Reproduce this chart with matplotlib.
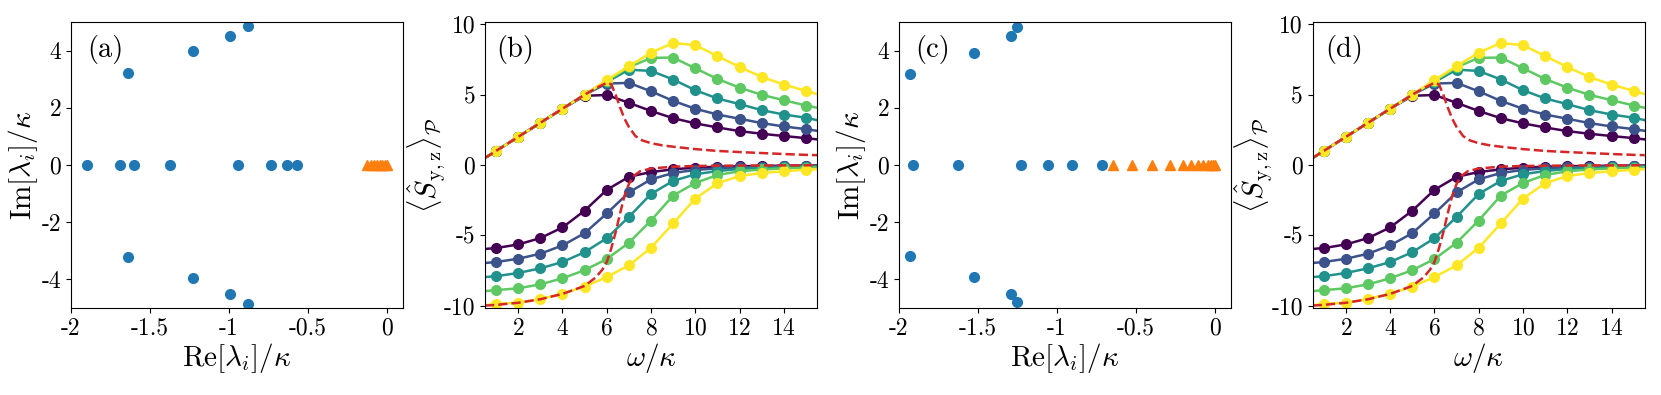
import numpy as np
import matplotlib
matplotlib.use('Agg')
import matplotlib.pyplot as plt

plt.rcParams['font.family'] = 'cmr10'
plt.rcParams['mathtext.fontset'] = 'cm'
plt.rcParams['axes.unicode_minus'] = False
plt.rcParams['axes.formatter.use_mathtext'] = True

# spectra, panels (a) and (c)
re_a = [-1.897, -1.69, -1.604, -1.372, -0.942, -0.733, -0.636, -0.573,
        -1.637, -1.231, -0.995, -0.877, -1.637, -1.231, -0.995, -0.877]
im_a = [0, 0, 0, 0, 0, 0, 0, 0,
        3.22, 3.97, 4.51, 4.87, -3.22, -3.96, -4.51, -4.86]
tri_a = [-0.125, -0.105, -0.085, -0.065, -0.045, -0.03, -0.015, 0.0]

re_c = [-1.909, -1.625, -1.229, -1.058, -0.905, -0.718,
        -1.931, -1.524, -1.293, -1.253, -1.931, -1.524, -1.293, -1.253]
im_c = [0, 0, 0, 0, 0, 0,
        3.19, 3.93, 4.51, 4.81, -3.17, -3.93, -4.50, -4.80]
tri_c = [-0.648, -0.526, -0.398, -0.284, -0.204, -0.152, -0.109, -0.074,
         -0.046, -0.025, -0.011, 0.0]

# panels (b) and (d)
omega = np.arange(1, 16)
sy = [
    [1, 2, 3, 4, 4.92, 4.98, 4.42, 3.84, 3.33, 2.96, 2.67, 2.41, 2.22, 2.06, 1.91],
    [1, 2, 3, 4, 5.0, 5.79, 5.84, 5.24, 4.56, 4.0, 3.59, 3.29, 2.98, 2.74, 2.55],
    [1, 2, 3, 4, 5, 5.9, 6.78, 6.69, 6.08, 5.32, 4.73, 4.33, 3.9, 3.59, 3.36],
    [1, 2, 3, 4, 5, 5.98, 6.95, 7.62, 7.64, 6.88, 6.12, 5.5, 4.99, 4.61, 4.23],
    [1, 2, 3, 4, 5, 6.04, 7.03, 7.99, 8.68, 8.52, 7.75, 6.97, 6.26, 5.72, 5.27],
]
sz = [
    [-5.91, -5.65, -5.2, -4.44, -3.25, -1.77, -0.84, -0.5, -0.31, -0.19, -0.12, -0.09, -0.07, -0.05, -0.04],
    [-6.9, -6.67, -6.31, -5.72, -4.85, -3.45, -1.95, -1.02, -0.57, -0.35, -0.24, -0.17, -0.13, -0.1, -0.08],
    [-7.91, -7.68, -7.35, -6.9, -6.2, -5.21, -3.69, -2.06, -1.13, -0.66, -0.43, -0.28, -0.2, -0.15, -0.12],
    [-8.9, -8.77, -8.49, -8.06, -7.48, -6.69, -5.53, -3.95, -2.17, -1.28, -0.71, -0.45, -0.32, -0.24, -0.18],
    [-9.88, -9.79, -9.53, -9.15, -8.65, -7.97, -7.14, -5.89, -4.16, -2.39, -1.3, -0.78, -0.57, -0.45, -0.33],
]
# where the solid curves meet the frame (omega = 0.5 and 15.5)
sy_start = [0.5, 0.5, 0.5, 0.5, 0.5]
sy_end = [1.82, 2.43, 3.19, 4.07, 5.04]
sz_start = [-5.97, -6.97, -7.97, -8.97, -9.97]
sz_end = [-0.035, -0.07, -0.11, -0.16, -0.3]

# dashed mean-field curves
mf_w_y = [0.5, 1, 2, 3, 4, 5, 5.5, 6.0, 6.2, 6.4, 6.6, 6.8, 7.0, 7.3, 7.6, 8, 8.5, 9,
          10, 11, 12, 13, 14, 15, 15.5]
mf_y = [0.5, 1, 2, 3, 4, 5, 5.45, 5.85, 5.75, 5.0, 4.1, 3.3, 2.7, 2.05, 1.75, 1.55, 1.4, 1.3,
        1.13, 1.0, 0.92, 0.85, 0.78, 0.72, 0.7]
mf_w_z = [0.5, 1, 2, 3, 4, 5, 5.5, 5.8, 6.0, 6.2, 6.4, 6.6, 6.8, 7.0, 7.2, 7.5, 8, 9,
          10, 12, 15.5]
mf_z = [-10, -9.95, -9.8, -9.55, -9.17, -8.6, -8.0, -7.45, -6.9, -5.95, -4.8, -3.45, -2.2,
        -1.35, -0.8, -0.45, -0.25, -0.12, -0.07, -0.04, -0.02]

colors = plt.cm.viridis(np.linspace(0, 1, 5))

fig = plt.figure(figsize=(16.61, 3.95), dpi=100)
lefts = [0.0427, 0.292, 0.5412, 0.7903]
axs = [fig.add_axes([l, 0.2203, 0.1999, 0.724]) for l in lefts]

tick_fs = 17
label_fs = 21
tag_fs = 20.5


def spectrum(ax, re, im, tri, tag):
    ax.plot(re, im, 'o', color='tab:blue', ms=7, ls='none')
    ax.plot(tri, np.zeros(len(tri)), '^', color='tab:orange', ms=7, ls='none')
    ax.set_xlim(-2, 0.1)
    ax.set_ylim(-5, 5)
    ax.set_xticks([-2, -1.5, -1, -0.5, 0])
    ax.set_xticklabels(['-2', '-1.5', '-1', '-0.5', '0'])
    ax.set_yticks([-4, -2, 0, 2, 4])
    ax.set_yticklabels(['-4', '-2', '0', '2', '4'])
    ax.tick_params(labelsize=tick_fs)
    ax.set_xlabel(r'$\mathrm{Re}[\lambda_i]/\kappa$', fontsize=label_fs, labelpad=1)
    ax.set_ylabel(r'$\mathrm{Im}[\lambda_i]/\kappa$', fontsize=label_fs, labelpad=1)
    ax.text(0.05, 0.955, tag, transform=ax.transAxes, ha='left', va='top', fontsize=tag_fs)


def spin(ax, tag, xtag):
    for i in range(5):
        wl = np.concatenate([[0.5], omega, [15.5]])
        ax.plot(wl, np.concatenate([[sy_start[i]], sy[i], [sy_end[i]]]), '-', color=colors[i], lw=1.8)
        ax.plot(omega, sy[i], 'o', color=colors[i], ms=7, ls='none')
        ax.plot(wl, np.concatenate([[sz_start[i]], sz[i], [sz_end[i]]]), '-', color=colors[i], lw=1.8)
        ax.plot(omega, sz[i], 'o', color=colors[i], ms=7, ls='none')
    ax.plot(mf_w_y, mf_y, '--', color='tab:red', lw=1.8)
    ax.plot(mf_w_z, mf_z, '--', color='tab:red', lw=1.8)
    ax.set_xlim(0.5, 15.5)
    ax.set_ylim(-10.17, 10.17)
    ax.set_xticks([2, 4, 6, 8, 10, 12, 14])
    ax.set_yticks([-10, -5, 0, 5, 10])
    ax.set_yticklabels(['-10', '-5', '0', '5', '10'])
    ax.tick_params(labelsize=tick_fs)
    ax.set_xlabel(r'$\omega/\kappa$', fontsize=label_fs, labelpad=1)
    ax.set_ylabel(r'$\langle\hat{S}_{\mathrm{y,z}}\rangle_{\mathcal{P}}$', fontsize=label_fs, labelpad=-2)
    ax.text(xtag, 0.955, tag, transform=ax.transAxes, ha='left', va='top', fontsize=tag_fs)


spectrum(axs[0], re_a, im_a, tri_a, '(a)')
spin(axs[1], '(b)', 0.035)
spectrum(axs[2], re_c, im_c, tri_c, '(c)')
spin(axs[3], '(d)', 0.037)

fig.savefig('out.png', dpi=100)
